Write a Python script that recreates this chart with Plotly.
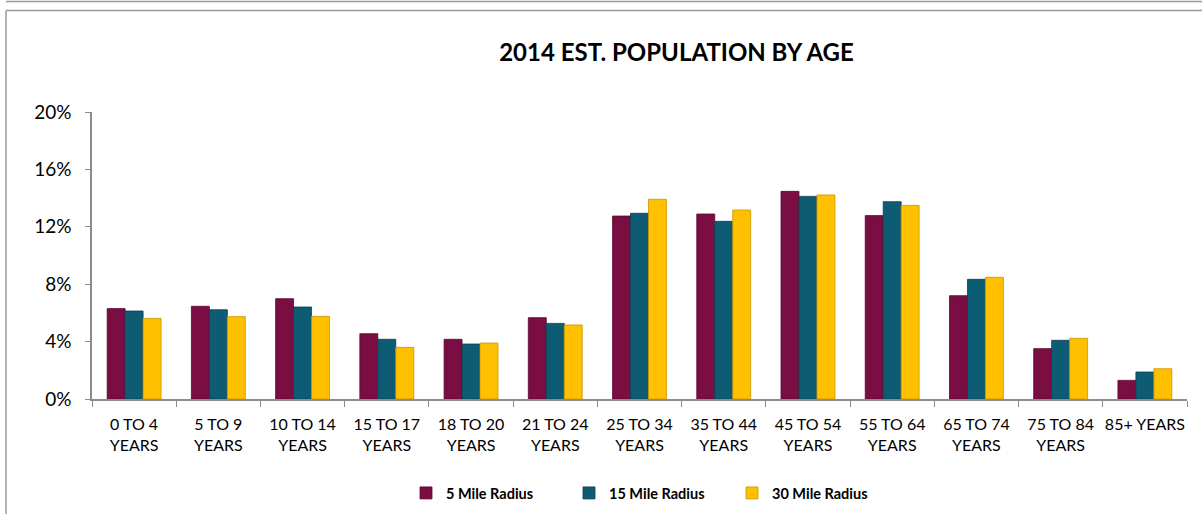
import plotly.graph_objects as go

categories = ["0 TO 4<br>YEARS", "5 TO 9<br>YEARS", "10 TO 14<br>YEARS", "15 TO 17<br>YEARS",
              "18 TO 20<br>YEARS", "21 TO 24<br>YEARS", "25 TO 34<br>YEARS", "35 TO 44<br>YEARS",
              "45 TO 54<br>YEARS", "55 TO 64<br>YEARS", "65 TO 74<br>YEARS", "75 TO 84<br>YEARS",
              "85+ YEARS"]
mile5 = [6.3, 6.46, 6.99, 4.55, 4.16, 5.67, 12.75, 12.89, 14.47, 12.78, 7.20, 3.51, 1.30]
mile15 = [6.13, 6.22, 6.41, 4.16, 3.83, 5.27, 12.94, 12.38, 14.12, 13.75, 8.34, 4.09, 1.88]
mile30 = [5.62, 5.74, 5.76, 3.60, 3.90, 5.16, 13.92, 13.17, 14.22, 13.49, 8.48, 4.23, 2.11]
series_names = ["5 Mile Radius", "15 Mile Radius", "30 Mile Radius"]
tick_vals = [0, 4, 8, 12, 16, 20]
tick_text = ["0%", "4%", "8%", "12%", "16%", "20%"]

colors = ["#7A0E42", "#0E5C74", "#FFC000"]
edges = ["#5a0830", "#083f52", "#c99400"]

FONT = "Lato"

fig = go.Figure()
for name, vals, c, e in zip(series_names, [mile5, mile15, mile30], colors, edges):
    fig.add_trace(go.Bar(
        x=categories, y=vals, name="<b>" + name + "</b>",
        marker=dict(color=c, line=dict(color=e, width=0.8)),
    ))

W, H = 1202, 514
L, R, T, B = 92, 15, 112, 115
pw = W - L - R
ph = H - T - B

def px_x(p):
    return (p - L) / pw

def px_y(p):
    return (H - B - p) / ph

shapes = [
    dict(type="line", xref="paper", yref="paper", x0=px_x(6), x1=px_x(1210), y0=px_y(1.5), y1=px_y(1.5),
         line=dict(color="#9a9a9a", width=1.5)),
    dict(type="line", xref="paper", yref="paper", x0=px_x(6), x1=px_x(1210), y0=px_y(10.5), y1=px_y(10.5),
         line=dict(color="#9a9a9a", width=1.5)),
    dict(type="line", xref="paper", yref="paper", x0=px_x(6), x1=px_x(6), y0=px_y(10.5), y1=px_y(520),
         line=dict(color="#9a9a9a", width=1.5)),
]

fig.update_layout(
    width=W, height=H,
    margin=dict(l=L, r=R, t=T, b=B, autoexpand=False),
    paper_bgcolor="white", plot_bgcolor="white",
    font=dict(family=FONT, color="black"),
    barmode="group", bargap=0.36, bargroupgap=0,
    title=dict(text="<b>2014 EST. POPULATION BY AGE</b>", x=676.5 / W, xanchor="center",
               y=1 - 52.5 / H, yanchor="middle", font=dict(size=24, family=FONT, color="black")),
    xaxis=dict(showline=True, linecolor="#8c8c8c", linewidth=1.5, ticks="outside", tickson="boundaries",
               ticklen=6, tickcolor="#8c8c8c", tickfont=dict(size=16, family=FONT), showgrid=False,
               automargin=False, tickangle=0, ticklabelstandoff=10),
    yaxis=dict(range=[0, 20], tickvals=tick_vals, ticktext=tick_text, showline=True, linecolor="#8c8c8c",
               linewidth=1.5, ticks="outside", ticklen=5, tickcolor="#8c8c8c", showgrid=False, zeroline=False,
               tickfont=dict(size=19, family=FONT), automargin=False, ticklabelstandoff=10),
    legend=dict(orientation="h", x=px_x(406), xanchor="left", y=px_y(493), yanchor="middle",
                font=dict(size=14.5, family=FONT), entrywidth=118, entrywidthmode="pixels",
                itemwidth=30),
    shapes=shapes,
    showlegend=True,
)

fig.write_html("out.html", config={"displayModeBar": False},
               post_script="document.body.style.margin='0px';document.body.style.overflow='hidden';")
